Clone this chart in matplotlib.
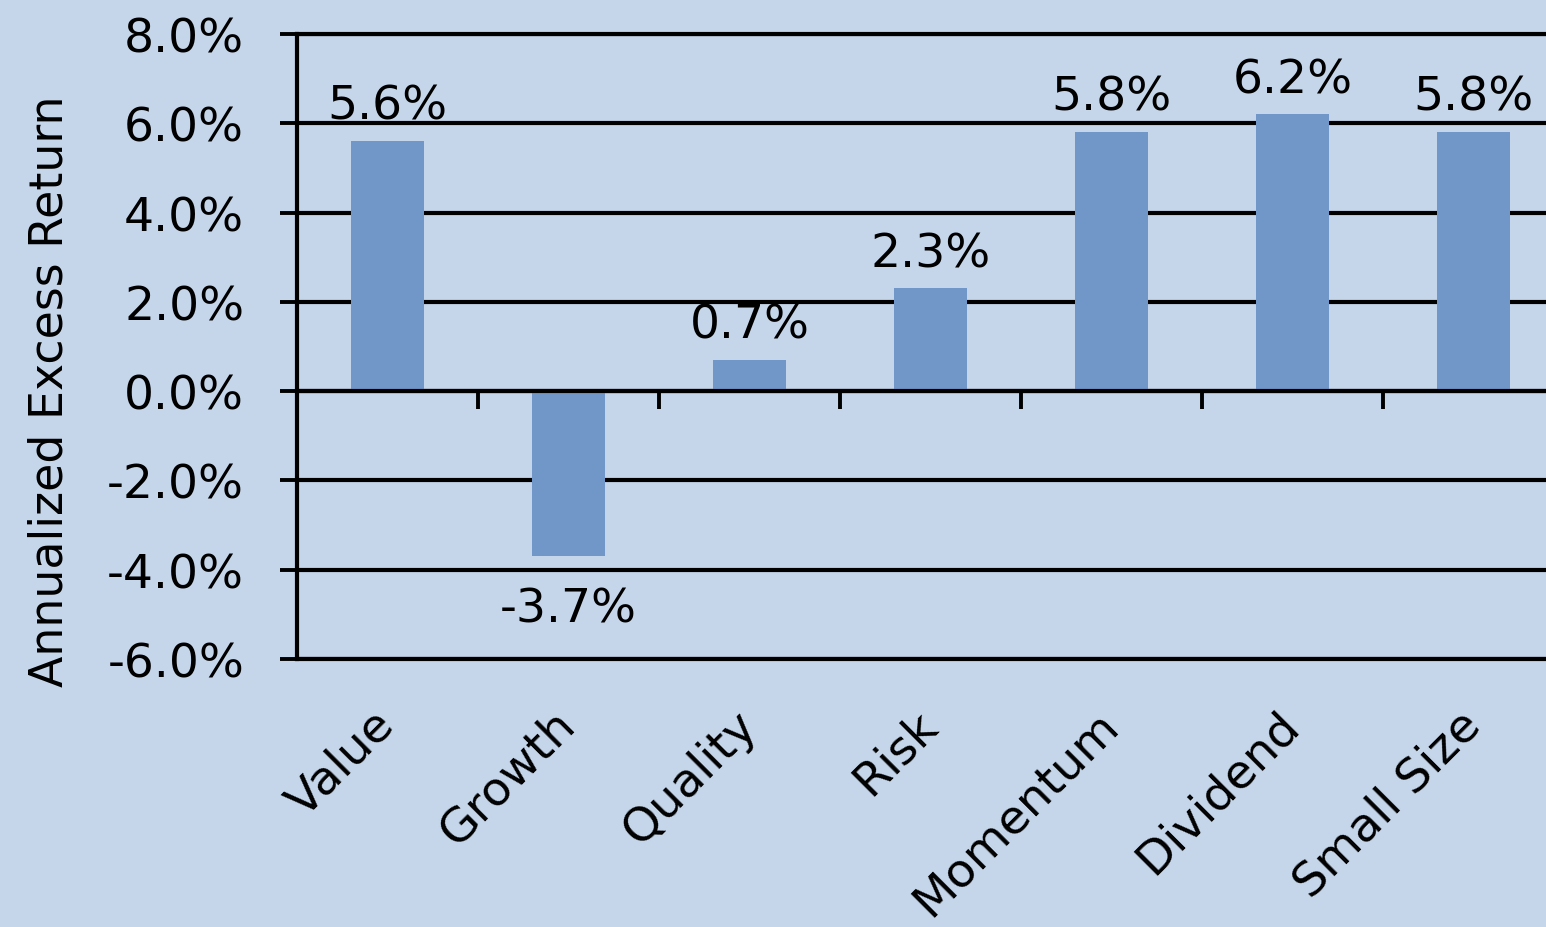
import numpy as np
import matplotlib
matplotlib.use("Agg")
import matplotlib.pyplot as plt
from matplotlib.ticker import FuncFormatter

# factor excess returns (%)
factors = ["Value", "Growth", "Quality", "Risk", "Momentum", "Dividend", "Small Size"]
excess  = [5.6, -3.7, 0.7, 2.3, 5.8, 6.2, 5.8]
y_ticks = [-6, -4, -2, 0, 2, 4, 6, 8]

bg      = "#C5D6EA"
bar_col = "#7197C9"

plt.rcParams["font.family"] = "DejaVu Sans"

fig = plt.figure(figsize=(15.46, 9.28), dpi=100, facecolor=bg)
# plot area runs a bit past the right edge of the figure
ax  = fig.add_axes([0.1921, 0.2888, 0.8195, 0.6735], facecolor=bg)

x = np.arange(len(factors))
ax.bar(x, excess, width=0.40, color=bar_col, zorder=2)

ax.set_xlim(-0.5, len(factors) - 0.5)
ax.set_ylim(min(y_ticks), max(y_ticks))
ax.set_yticks(y_ticks)
ax.yaxis.set_major_formatter(FuncFormatter(lambda v, p: "%.1f%%" % v))
ax.tick_params(axis="y", length=12, width=2.8, pad=26, labelsize=34, color="black")

# horizontal grid, behind the bars
ax.set_axisbelow(True)
ax.yaxis.grid(True, color="black", linewidth=3.0)
ax.xaxis.grid(False)

for side in ["left", "top"]:
    ax.spines[side].set_linewidth(3.0)
    ax.spines[side].set_color("black")
ax.spines["right"].set_visible(False)

# category axis sits on the zero line, ticks between categories
ax.spines["bottom"].set_position(("data", 0))
ax.spines["bottom"].set_linewidth(3.0)
ax.set_xticks(x[:-1] + 0.5)
ax.set_xticklabels([])
ax.tick_params(axis="x", length=13, width=2.8, direction="out", color="black")

# category names below the plot
sec = ax.secondary_xaxis("bottom")
sec.set_xticks(x)
sec.set_xticklabels(factors, fontsize=34)
sec.tick_params(length=0, pad=42)
sec.spines["bottom"].set_linewidth(3.0)
for lbl in sec.get_xticklabels():
    lbl.set_rotation(45)
    lbl.set_ha("right")
    lbl.set_va("center")
    lbl.set_rotation_mode("anchor")

ax.set_ylabel("Annualized Excess Return", fontsize=33, va="center")
ax.yaxis.set_label_coords(-0.195, 0.43)

# value labels
for xi, v in zip(x, excess):
    if v >= 0:
        ax.annotate("%.1f%%" % v, (xi, v), xytext=(0, 16), textcoords="offset points",
                    ha="center", va="baseline", fontsize=34)
    else:
        ax.annotate("%.1f%%" % v, (xi, v), xytext=(0, -22), textcoords="offset points",
                    ha="center", va="top", fontsize=34)

fig.savefig("out.png", dpi=100, facecolor=bg)
